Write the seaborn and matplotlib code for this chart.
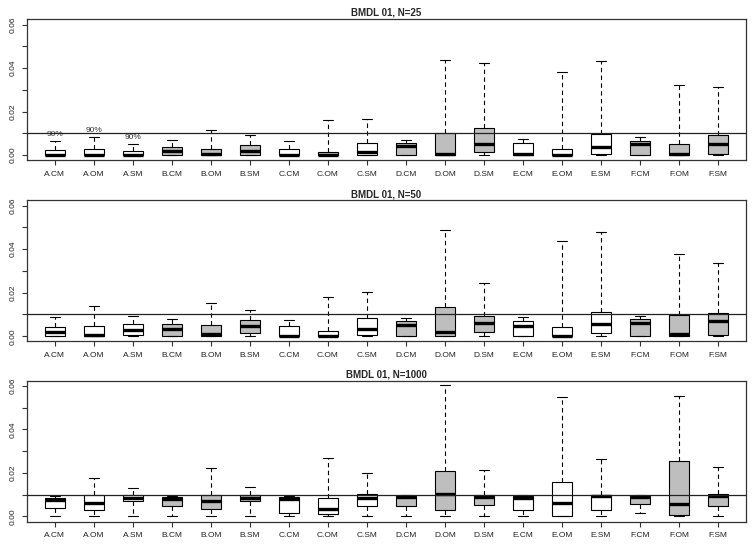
import numpy as np
import pandas as pd
import seaborn as sns
import matplotlib.pyplot as plt

# -------------------------
# Data
# -------------------------
cats = ["A.CM", "A.OM", "A.SM", "B.CM", "B.OM", "B.SM", "C.CM", "C.OM", "C.SM",
        "D.CM", "D.OM", "D.SM", "E.CM", "E.OM", "E.SM", "F.CM", "F.OM", "F.SM"]

# w = white box, g = grey box
shade_25 = ["w", "w", "w", "g", "g", "g", "w", "g", "w", "g", "g", "g", "w", "w", "w", "g", "g", "g"]
shade_big = ["w", "w", "w", "g", "g", "g", "w", "w", "w", "g", "g", "g", "w", "w", "w", "g", "g", "g"]

# five-number summaries: lower whisker, Q1, median, Q3, upper whisker
n25_lo = [0, 0, 0, 0, 0, 0, 0, 0, 0, 0, 0, 0.0002, 0, 0, 0.0002, 0, 0, 0]
n25_q1 = [0, 0, 0, 0, 0, 0, 0, 0, 0, 0, 0, 0.0014, 0, 0, 0.0003, 0, 0, 0.0003]
n25_med = [0.0002, 0, 0.0002, 0.0017, 0.0003, 0.0017, 0, 0, 0.0014,
           0.0040, 0.0006, 0.0049, 0.0006, 0, 0.0038, 0.0049, 0.0003, 0.0052]
n25_q3 = [0.0024, 0.0029, 0.0021, 0.0035, 0.0028, 0.0046, 0.0028, 0.0012, 0.0055,
          0.0055, 0.0101, 0.0125, 0.0055, 0.0026, 0.0099, 0.0064, 0.0052, 0.0092]
n25_hi = [0.0064, 0.0084, 0.0050, 0.0069, 0.0115, 0.0092, 0.0064, 0.0159, 0.0165,
          0.0069, 0.0439, 0.0425, 0.0075, 0.0382, 0.0433, 0.0084, 0.0321, 0.0313]

n50_lo = [0, 0, 0, 0, 0, 0, 0, 0, 0, 0, 0, 0, 0, 0, 0.0002, 0, 0, 0]
n50_q1 = [0, 0, 0.0005, 0, 0, 0.0014, 0, 0, 0.0005, 0, 0, 0.0021, 0, 0, 0.0014, 0, 0, 0.0008]
n50_med = [0.0018, 0.0006, 0.0029, 0.0035, 0.0012, 0.0047, 0, 0, 0.0035,
           0.0052, 0.0018, 0.0063, 0.0049, 0.0002, 0.0056, 0.0063, 0.0009, 0.0069]
n50_q3 = [0.0043, 0.0049, 0.0055, 0.0055, 0.0050, 0.0073, 0.0047, 0.0023, 0.0084,
          0.0069, 0.0133, 0.0093, 0.0072, 0.0041, 0.0110, 0.0078, 0.0098, 0.0105]
n50_hi = [0.0087, 0.0137, 0.0093, 0.0078, 0.0151, 0.0119, 0.0073, 0.0179, 0.0205,
          0.0085, 0.0487, 0.0243, 0.0087, 0.0437, 0.0478, 0.0093, 0.0376, 0.0336]

n1000_lo = [0, 0, 0, 0, 0, 0, 0, 0.0003, 0, 0, 0, 0, 0, 0.0002, 0, 0.0014, 0.0003, 0]
n1000_q1 = [0.0037, 0.0031, 0.0072, 0.0049, 0.0034, 0.0069, 0.0018, 0.0011, 0.0050,
            0.0050, 0.0032, 0.0052, 0.0032, 0.0003, 0.0032, 0.0058, 0.0008, 0.0049]
n1000_med = [0.0076, 0.0063, 0.0087, 0.0081, 0.0072, 0.0087, 0.0079, 0.0035, 0.0087,
             0.0089, 0.0102, 0.0089, 0.0087, 0.0064, 0.0092, 0.0090, 0.0058, 0.0096]
n1000_q3 = [0.0085, 0.0099, 0.0099, 0.0090, 0.0099, 0.0099, 0.0090, 0.0085, 0.0102,
            0.0095, 0.0209, 0.0099, 0.0095, 0.0159, 0.0098, 0.0096, 0.0256, 0.0102]
n1000_hi = [0.0096, 0.0179, 0.0133, 0.0095, 0.0224, 0.0137, 0.0096, 0.0270, 0.0202,
            0.0098, 0.0605, 0.0215, 0.0098, 0.0550, 0.0266, 0.0098, 0.0553, 0.0229]

# coverage notes on the first panel
note_cats = ["A.CM", "A.OM", "A.SM"]
note_text = ["90%", "90%", "90%"]

panels = [
    ("BMDL 01, N=25", shade_25, [n25_lo, n25_q1, n25_med, n25_q3, n25_hi]),
    ("BMDL 01, N=50", shade_big, [n50_lo, n50_q1, n50_med, n50_q3, n50_hi]),
    ("BMDL 01, N=1000", shade_big, [n1000_lo, n1000_q1, n1000_med, n1000_q3, n1000_hi]),
]


def five_points(stats, shades):
    # 5 points per box -> quartiles land exactly on Q1/median/Q3
    rows = []
    for i, c in enumerate(cats):
        for s in stats:
            rows.append({"cat": c, "shade": shades[i], "value": s[i]})
    return pd.DataFrame(rows)


sns.set_style("ticks")
plt.rcParams["font.family"] = ["Liberation Sans", "DejaVu Sans"]

fig = plt.figure(figsize=(7.54, 5.49), dpi=100)
bottoms = [0.708, 0.378, 0.0497]
frame = "#333333"

for (title, shades, stats), bottom in zip(panels, bottoms):
    ax = fig.add_axes([0.0354, bottom, 0.954, 0.2568])
    df = five_points(stats, shades)
    sns.boxplot(
        data=df, x="cat", y="value", hue="shade", order=cats, hue_order=["w", "g"],
        palette={"w": "white", "g": "#BEBEBE"}, dodge=False, width=0.5,
        whis=(0, 100), saturation=1, linecolor="black", linewidth=0.8,
        legend=False, showfliers=False,
        medianprops={"linewidth": 2.4, "color": "black"},
        whiskerprops={"linestyle": (0, (4, 3)), "linewidth": 0.8},
        capprops={"linewidth": 0.8},
        ax=ax,
    )
    ax.axhline(0.01, color="#222222", linewidth=0.9, zorder=5)

    ax.set_xlim(-0.72, 17.72)
    ax.set_ylim(-0.0024, 0.0624)
    ax.set_xlabel("")
    ax.set_ylabel("")
    ax.set_yticks([0, 0.02, 0.04, 0.06])
    ax.set_yticklabels(["0.00", "0.02", "0.04", "0.06"])
    ax.set_yticks([0.01, 0.03, 0.05], minor=True)
    plt.setp(ax.get_yticklabels(), rotation=90, va="center", ha="right")
    ax.tick_params(axis="both", which="both", length=3.5, width=0.8, color=frame,
                   labelsize=6, labelcolor="#222222")
    ax.tick_params(axis="y", pad=4)
    ax.tick_params(axis="x", pad=4)
    for sp in ax.spines.values():
        sp.set_visible(True)
        sp.set_color(frame)
        sp.set_linewidth(0.9)
    ax.set_title(title, fontsize=7, fontweight="bold", pad=2.5)

    if title.endswith("N=25"):
        for c, t in zip(note_cats, note_text):
            i = cats.index(c)
            ax.text(i, stats[4][i] + 0.0031, t, ha="center", va="center",
                    fontsize=6, color="#333333")

fig.savefig("out.png", dpi=100)
